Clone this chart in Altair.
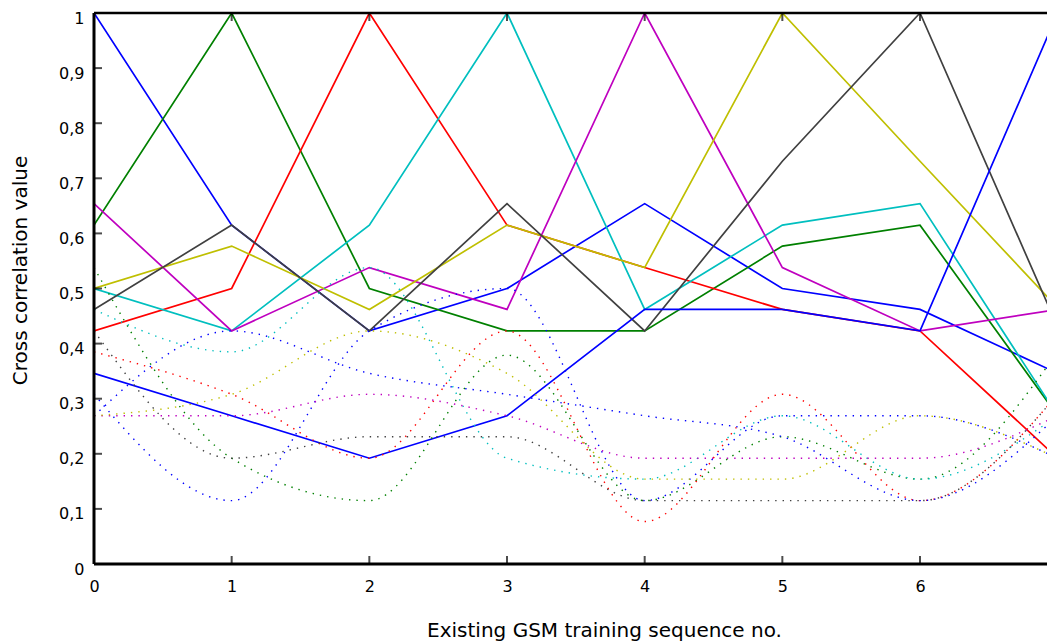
import altair as alt
import pandas as pd

# ---------------- data ----------------
x_positions = [0, 1, 2, 3, 4, 5, 6, 7]
sequences = ["TSC 0", "TSC 1", "TSC 2", "TSC 3", "TSC 4", "TSC 5", "TSC 6", "TSC 7"]
line_colors = ["#0000ff", "#008000", "#ff0000", "#00bfbf", "#bf00bf", "#bfbf00", "#404040", "#0000ff"]

# solid curves
solid_tsc0 = [1.0, 0.615, 0.423, 0.5, 0.654, 0.5, 0.462, 0.346]
solid_tsc1 = [0.615, 1.0, 0.5, 0.423, 0.423, 0.577, 0.615, 0.269]
solid_tsc2 = [0.423, 0.5, 1.0, 0.615, 0.538, 0.462, 0.423, 0.192]
solid_tsc3 = [0.5, 0.423, 0.615, 1.0, 0.462, 0.615, 0.654, 0.269]
solid_tsc4 = [0.654, 0.423, 0.538, 0.462, 1.0, 0.538, 0.423, 0.462]
solid_tsc5 = [0.5, 0.577, 0.462, 0.615, 0.538, 1.0, 0.731, 0.465]
solid_tsc6 = [0.462, 0.615, 0.423, 0.654, 0.423, 0.731, 1.0, 0.43]
solid_tsc7 = [0.346, 0.269, 0.192, 0.269, 0.462, 0.462, 0.423, 1.0]

# dotted (smoothed) curves
dotted_tsc0 = [0.308, 0.115, 0.423, 0.5, 0.115, 0.269, 0.269, 0.192]
dotted_tsc1 = [0.538, 0.192, 0.115, 0.379, 0.115, 0.231, 0.154, 0.385]
dotted_tsc2 = [0.385, 0.308, 0.192, 0.423, 0.077, 0.308, 0.115, 0.308]
dotted_tsc3 = [0.462, 0.385, 0.538, 0.192, 0.154, 0.269, 0.154, 0.269]
dotted_tsc4 = [0.269, 0.269, 0.308, 0.269, 0.192, 0.192, 0.192, 0.269]
dotted_tsc5 = [0.269, 0.308, 0.423, 0.346, 0.154, 0.154, 0.269, 0.192]
dotted_tsc6 = [0.423, 0.192, 0.231, 0.231, 0.115, 0.115, 0.115, 0.308]
dotted_tsc7 = [0.269, 0.423, 0.346, 0.308, 0.269, 0.231, 0.115, 0.269]

y_axis_values = [0, 0.1, 0.2, 0.3, 0.4, 0.5, 0.6, 0.7, 0.8, 0.9, 1]
x_tick_values = [1, 2, 3, 4, 5, 6, 7]
y_tick_values = [0.1, 0.2, 0.3, 0.4, 0.5, 0.6, 0.7, 0.8, 0.9]

x_title = "Existing GSM training sequence no."
y_title = "Cross correlation value"

# ---------------- tables ----------------
solid_sets = [solid_tsc0, solid_tsc1, solid_tsc2, solid_tsc3,
              solid_tsc4, solid_tsc5, solid_tsc6, solid_tsc7]
dotted_sets = [dotted_tsc0, dotted_tsc1, dotted_tsc2, dotted_tsc3,
               dotted_tsc4, dotted_tsc5, dotted_tsc6, dotted_tsc7]

rows = []
for name, vals in zip(sequences, solid_sets):
    for xv, yv in zip(x_positions, vals):
        rows.append({"seq": name, "kind": "solid", "x": xv, "y": yv})
for name, vals in zip(sequences, dotted_sets):
    for xv, yv in zip(x_positions, vals):
        rows.append({"seq": name, "kind": "dotted", "x": xv, "y": yv})
df = pd.DataFrame(rows)

xticks_df = pd.DataFrame({"x": x_tick_values})
yticks_df = pd.DataFrame({"y": y_tick_values})

PLOT_W = 953
X_MAX = PLOT_W / 137.67  # visible part of the x axis (7 lies just past the edge)

xscale = alt.Scale(domain=[0, X_MAX], nice=False, zero=False)
yscale = alt.Scale(domain=[0, 1], nice=False, zero=False)
color = alt.Color("seq:N", scale=alt.Scale(domain=sequences, range=line_colors), legend=None)

x_axis = alt.Axis(values=x_positions, format="d", labelPadding=14, labelFlush=False,
                  domain=False, ticks=False, grid=False,
                  title=x_title, titleX=510, titleY=72, titleAlign="center",
                  titleBaseline="alphabetic")
y_axis = alt.Axis(values=y_axis_values,
                  labelExpr="replace(format(datum.value, '~g'), '.', ',')",
                  labelPadding=10, labelFlush=False, labelBaseline="middle", labelOffset=5,
                  domain=False, ticks=False, grid=False,
                  title=y_title, titleAngle=270, titleX=-68, titleY=257,
                  titleAlign="center", titleBaseline="alphabetic")

solid = alt.Chart(df).transform_filter(alt.datum.kind == "solid").mark_line(
    strokeWidth=1.7, clip=True
).encode(
    x=alt.X("x:Q", scale=xscale, axis=x_axis),
    y=alt.Y("y:Q", scale=yscale, axis=y_axis),
    color=color,
    detail="seq:N",
)

dotted = alt.Chart(df).transform_filter(alt.datum.kind == "dotted").mark_line(
    strokeWidth=1.4, strokeDash=[1.4, 6], interpolate="monotone", clip=True
).encode(
    x=alt.X("x:Q"),
    y=alt.Y("y:Q"),
    color=color,
    detail="seq:N",
)

frame_top = alt.Chart().mark_rule(color="black", strokeWidth=2.5).encode(
    y=alt.datum(1))
frame_bottom = alt.Chart().mark_rule(color="black", strokeWidth=3).encode(
    y=alt.datum(0))
frame_left = alt.Chart().mark_rule(color="black", strokeWidth=3).encode(
    x=alt.datum(0))

ticks_bottom = alt.Chart(xticks_df).mark_tick(
    orient="vertical", size=8, thickness=2, yOffset=-4, color="black"
).encode(x=alt.X("x:Q"), y=alt.datum(0))
ticks_top = alt.Chart(xticks_df).mark_tick(
    orient="vertical", size=8, thickness=2, yOffset=4, color="black"
).encode(x=alt.X("x:Q"), y=alt.datum(1))
ticks_left = alt.Chart(yticks_df).mark_tick(
    orient="horizontal", size=8, thickness=2, xOffset=4, color="black"
).encode(y=alt.Y("y:Q"), x=alt.datum(0))
ticks_right = alt.Chart(yticks_df).mark_tick(
    orient="horizontal", size=8, thickness=2, xOffset=-4, color="black"
).encode(y=alt.Y("y:Q"), x=alt.datum(7))

chart = alt.layer(
    solid, dotted, frame_top, frame_bottom, frame_left,
    ticks_bottom, ticks_top, ticks_left, ticks_right
).properties(
    width=PLOT_W, height=551,
    padding={"left": 86, "top": 5, "right": 0, "bottom": 78},
    autosize=alt.AutoSizeParams(type="none"),
).configure_view(
    stroke=None
).configure_axis(
    labelFont="DejaVu Sans", labelFontSize=16, labelColor="black",
    titleFont="DejaVu Sans", titleFontSize=20, titleFontWeight="normal", titleColor="black",
)

chart.save("out.html", embed_options={"renderer": "svg", "actions": False})
